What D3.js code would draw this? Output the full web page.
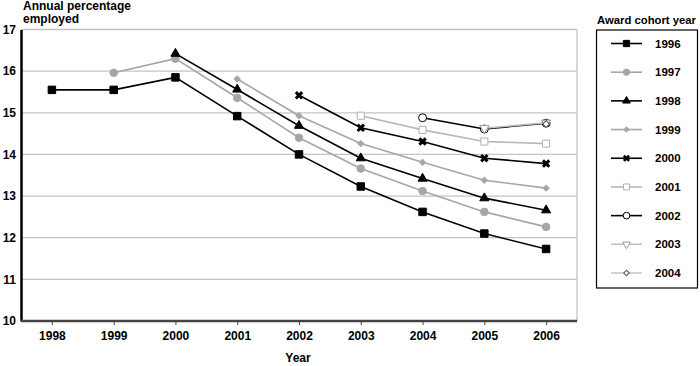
<!DOCTYPE html>
<html>
<head>
<meta charset="utf-8">
<script src="https://cdn.jsdelivr.net/npm/d3@7"></script>
<style>
body{margin:0;background:#fff;}
text{font-family:"Liberation Sans",Arial,sans-serif;font-weight:bold;}
</style>
</head>
<body>
<svg id="display" width="700" height="366"></svg>
<script>
// data
const years=["1998","1999","2000","2001","2002","2003","2004","2005","2006"];
const cohorts=["1996","1997","1998","1999","2000","2001","2002","2003","2004"];
const v1996=[15.55,15.55,15.85,14.92,14.0,13.23,12.62,12.1,11.73];
const v1997=[null,15.96,16.3,15.36,14.4,13.66,13.12,12.62,12.26];
const v1998=[null,null,16.42,15.56,14.69,13.91,13.42,12.95,12.66];
const v1999=[null,null,null,15.81,14.93,14.26,13.81,13.38,13.19];
const v2000=[null,null,null,null,15.42,14.64,14.31,13.91,13.78];
const v2001=[null,null,null,null,null,14.93,14.59,14.31,14.26];
const v2002=[null,null,null,null,null,null,14.88,14.61,14.75];
const v2003=[null,null,null,null,null,null,null,14.63,14.76];
const v2004=[null,null,null,null,null,null,null,null,14.73];
const y_ticks=[10,11,12,13,14,15,16,17];

const series_values=[v1996,v1997,v1998,v1999,v2000,v2001,v2002,v2003,v2004];
// style per cohort: line colour, marker symbol, marker fill, marker stroke, size
const styles=[
    {line:"#000",sym:d3.symbolSquare,fill:"#000",stroke:"#000",size:56},
    {line:"#a6a6a6",sym:d3.symbolCircle,fill:"#a6a6a6",stroke:"#a6a6a6",size:45},
    {line:"#000",sym:d3.symbolTriangle,fill:"#000",stroke:"#000",size:36},
    {line:"#a6a6a6",sym:d3.symbolSquare,fill:"#a6a6a6",stroke:"#a6a6a6",size:18,rot:45},
    {line:"#000",sym:d3.symbolX,fill:"none",stroke:"#000",size:28,sw:3},
    {line:"#b8b8b8",sym:d3.symbolSquare,fill:"#fff",stroke:"#b0b0b0",size:50},
    {line:"#000",sym:d3.symbolCircle,fill:"#fff",stroke:"#000",size:50},
    {line:"#c0c0c0",sym:d3.symbolTriangle,fill:"#fff",stroke:"#9a9a9a",size:36,rot:180},
    {line:"#c8c8c8",sym:d3.symbolSquare,fill:"#fff",stroke:"#555",size:22,rot:45}
];

const display=d3.select("#display");
const plot_left=21.0, plot_right=577.0, plot_top=29.5, plot_bottom=321.0;

const x=d3.scalePoint().domain(years).range([plot_left,plot_right]).padding(0.5);
const y=d3.scaleLinear().domain([10,17]).range([plot_bottom,plot_top]);

// grid lines
display.append("g")
    .selectAll("line")
    .data(y_ticks.filter(d=>d>10))
    .join("line")
    .attr("x1",plot_left).attr("x2",plot_right)
    .attr("y1",d=>y(d)).attr("y2",d=>y(d))
    .attr("stroke","#c4c4c4")
    .attr("stroke-width",1.3);

// right border
display.append("line")
    .attr("x1",plot_right).attr("x2",plot_right)
    .attr("y1",plot_top).attr("y2",plot_bottom)
    .attr("stroke","#c4c4c4")
    .attr("stroke-width",1.3);

// y axis
const y_axis=display.append("g")
    .attr("transform","translate("+plot_left+",0)")
    .call(d3.axisLeft(y).tickValues(y_ticks).tickFormat(d3.format("d")).tickSize(0).tickPadding(5));
y_axis.select(".domain").attr("stroke","#000").attr("stroke-width",2.5);
y_axis.selectAll("text").style("font-size","12px").attr("fill","#000");

// x axis
const x_axis=display.append("g")
    .attr("transform","translate(0,"+plot_bottom+")")
    .call(d3.axisBottom(x).tickSizeInner(4).tickSizeOuter(0).tickPadding(6));
x_axis.select(".domain").attr("stroke","#444").attr("stroke-width",2.5)
    .attr("d","M"+plot_left+",0H"+plot_right);
x_axis.selectAll(".tick line").attr("stroke","#444");
x_axis.selectAll("text").style("font-size","12px").attr("fill","#000");

// titles
display.append("text").attr("x",23).attr("y",10).style("font-size","12px").text("Annual percentage");
display.append("text").attr("x",23).attr("y",23).style("font-size","12px").text("employed");
display.append("text").attr("x",(plot_left+plot_right)/2-1).attr("y",362).style("font-size","12px")
    .style("text-anchor","middle").text("Year");

// lines and markers
const line=d3.line()
    .defined(d=>d.value!==null)
    .x(d=>x(d.year))
    .y(d=>y(d.value));

const symbol_path=function(s){return d3.symbol().type(s.sym).size(s.size)();};

let count=0;
for (const values of series_values){
    const s=styles[count];
    const points=years.map((yr,i)=>({year:yr,value:values[i]}));
    display.append("path")
        .datum(points)
        .attr("d",line)
        .attr("fill","none")
        .attr("stroke",s.line)
        .attr("stroke-width",1.6);
    display.append("g")
        .selectAll("path")
        .data(points.filter(d=>d.value!==null))
        .join("path")
        .attr("d",symbol_path(s))
        .attr("transform",d=>"translate("+x(d.year)+","+y(d.value)+")"+(s.rot?" rotate("+s.rot+")":""))
        .attr("fill",s.fill)
        .attr("stroke",s.stroke)
        .attr("stroke-width",s.sw?s.sw:1);
    count+=1;
}

// legend
display.append("text").attr("x",597).attr("y",24).style("font-size","11.3px").text("Award cohort year");
display.append("rect")
    .attr("x",596.5).attr("y",30)
    .attr("width",101).attr("height",258)
    .attr("fill","none")
    .attr("stroke","#000")
    .attr("stroke-width",1.2);

const legend_y=d3.scalePoint().domain(cohorts).range([43.5,273]);
count=0;
for (const cohort of cohorts){
    const s=styles[count];
    const ly=legend_y(cohort);
    display.append("line")
        .attr("x1",611).attr("x2",642)
        .attr("y1",ly).attr("y2",ly)
        .attr("stroke",s.line)
        .attr("stroke-width",1.6);
    display.append("path")
        .attr("d",d3.symbol().type(s.sym).size(s.size*0.7)())
        .attr("transform","translate(626.5,"+ly+")"+(s.rot?" rotate("+s.rot+")":""))
        .attr("fill",s.fill)
        .attr("stroke",s.stroke)
        .attr("stroke-width",s.sw?s.sw*0.85:1);
    display.append("text")
        .attr("x",655).attr("y",ly+4)
        .style("font-size","11.5px")
        .text(cohort);
    count+=1;
}
</script>
</body>
</html>
